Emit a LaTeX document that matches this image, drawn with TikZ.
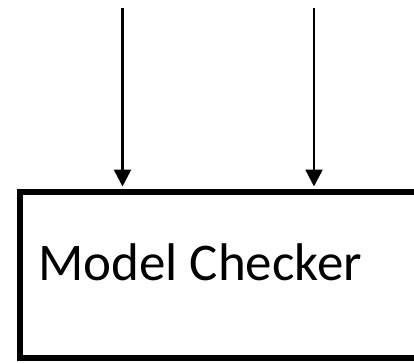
\documentclass[tikz,border=0pt]{standalone}
\usepackage{fontspec}
\setmainfont{Carlito}
\usetikzlibrary{arrows.meta}
\begin{document}
\begin{tikzpicture}[x=1pt,y=1pt,
    feed/.style={line width=2.5pt,shorten >=2.5pt,-{Triangle[length=17pt,width=17pt]}},
    box/.style={draw,line width=6pt,minimum width=430pt,minimum height=165.5pt,anchor=south west,inner sep=0pt}]
    \useasboundingbox (0,0) rectangle (414,362);
    \clip (0,0) rectangle (414,362);
    \node[box] (checker) at (17,1.5) {};
    \node[anchor=base west,inner sep=0pt,font=\fontsize{53}{60}\selectfont] (name) at ([xshift=21pt,yshift=-5.5pt]checker.west) {Model Checker};
    \coordinate (in1) at (122.5,354);
    \coordinate (in2) at (314,354);
    \draw[feed] (in1) -- (in1 |- checker.north);
    \draw[feed] (in2) -- (in2 |- checker.north);
\end{tikzpicture}
\end{document}
